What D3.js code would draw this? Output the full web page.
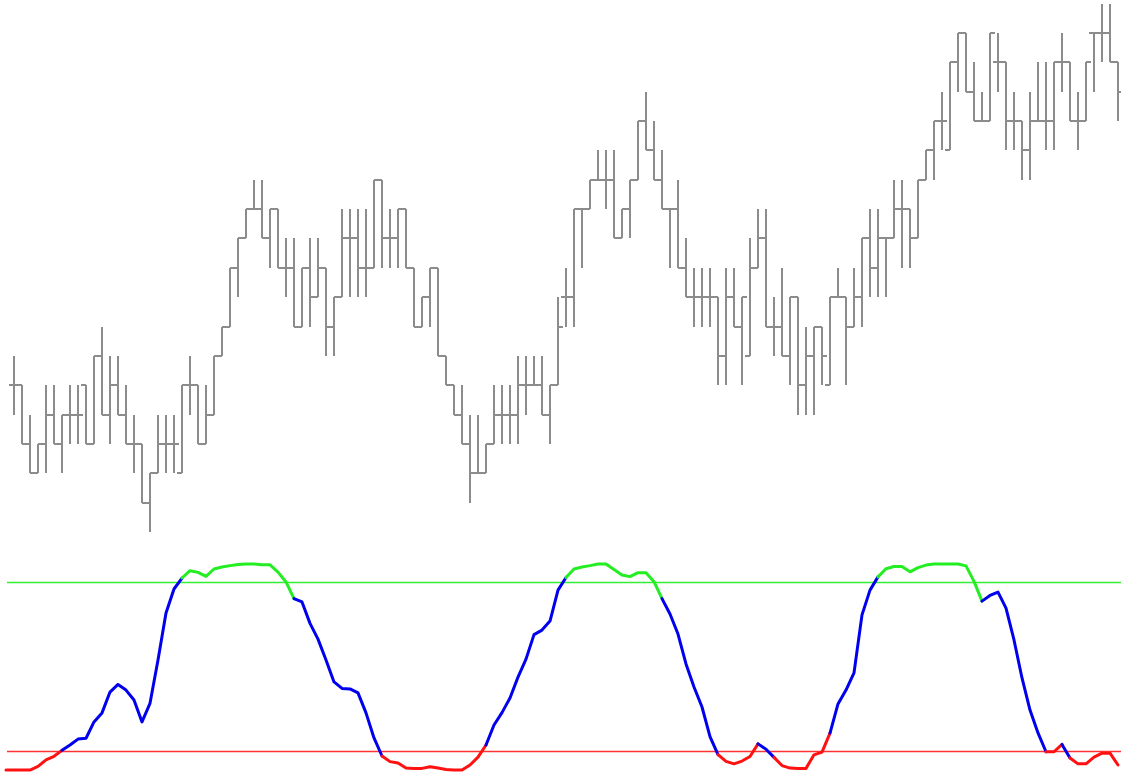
<!DOCTYPE html>
<html><head><meta charset="utf-8">
<script src="https://cdn.jsdelivr.net/npm/d3@7"></script>
<style>html,body{margin:0;padding:0;background:#fff;overflow:hidden}svg{display:block}</style>
</head><body>
<svg id="c" width="1121" height="775"></svg>
<script>
// Price bars (price in brick units): open, high, low, close
const opens  = [5,5,3,2,3,4,3,4,4,5,3,6,4,5,4,3,3,1,2,3,3,2,5,5,3,4,6,7,9,10,11,11,10,11,9,9,7,9,8,9,7,8,10,10,9,9,12,10,10,11,9,7,8,9,6,5,4,3,2,2,3,4,4,4,5,5,5,4,5,8,8,11,11,12,12,12,10,11,12,14,13,12,11,11,9,8,8,8,8,6,8,7,6,9,10,7,7,6,8,5,6,7,5,8,8,7,8,10,9,10,10,11,11,10,12,13,14,13,16,17,15,14,14,16,16,14,14,13,14,14,14,16,16,14,14,17,17,17,16];
const highs  = [6,5,4,3,5,5,4,5,5,5,6,7,6,6,5,4,3,2,4,4,4,5,6,5,5,6,7,9,10,11,12,12,11,11,10,10,9,10,10,9,8,11,11,11,11,12,12,11,11,11,9,8,9,9,6,5,5,4,4,3,5,5,5,6,6,6,6,5,8,9,11,11,12,13,13,13,11,12,14,15,14,13,11,12,10,9,9,9,8,9,9,8,10,11,11,8,9,8,8,7,7,7,8,9,8,9,10,11,11,10,12,12,11,12,13,14,15,16,17,17,16,15,17,17,16,15,14,15,16,16,16,17,16,15,16,17,18,18,16];
const lows   = [4,3,2,2,2,3,2,3,3,3,3,4,3,4,3,2,1,0,2,2,2,2,4,3,3,4,6,7,8,10,11,10,9,9,8,7,7,7,8,6,6,8,8,8,8,9,9,9,9,9,7,7,7,6,5,4,3,1,2,2,3,3,3,3,4,5,4,3,5,7,7,9,11,12,11,10,10,10,12,13,12,11,9,9,8,7,7,7,5,5,7,5,6,9,7,6,6,5,4,4,4,5,5,8,5,7,7,8,8,8,10,9,9,10,12,12,13,13,15,15,14,14,14,15,13,13,12,12,14,13,13,15,14,13,14,15,16,16,14];
const closes = [5,3,2,3,4,3,4,4,4,3,6,4,5,4,3,3,1,2,3,3,3,5,5,3,4,6,7,9,10,11,11,10,11,9,9,7,9,8,9,7,8,10,10,9,9,12,10,10,11,9,7,8,9,6,5,4,3,2,2,3,4,4,4,5,5,5,4,5,7,8,11,11,12,12,12,10,11,12,14,13,12,11,11,9,8,8,8,8,6,8,7,8,9,10,7,7,6,8,5,6,7,6,8,8,7,8,10,9,10,10,11,11,10,12,13,14,14,16,17,15,14,14,17,16,14,14,13,14,14,14,16,16,14,14,16,17,17,16,15];

// Oscillator (0..100), one value per bar starting one bar before the first price bar
const oscStart = -1;
const osc = [13.4,13.4,13.4,13.4,14.7,17.0,18.3,20.4,22.3,24.4,24.7,30.5,33.7,41.1,43.8,41.8,38.3,30.5,37.1,52.5,69.2,77.7,81.6,84.2,83.6,82.2,84.8,85.5,86.0,86.4,86.6,86.6,86.3,86.3,83.7,80.2,74.3,73.1,65.5,59.9,52.5,44.7,42.4,42.2,40.8,33.7,24.8,18.4,16.4,15.9,14.1,14.0,14.0,14.6,14.1,13.6,13.4,13.4,15.2,18.0,22.3,29.4,33.8,39.0,46.4,52.8,61.5,63.1,66.3,77.3,81.8,84.8,85.5,86.0,86.6,86.6,84.6,82.7,82.1,83.5,83.5,80.3,74.3,68.8,61.7,51.1,42.9,35.8,25.3,18.9,16.5,15.6,16.6,18.2,22.7,20.8,17.9,15.0,14.1,14.0,14.0,18.8,19.8,26.5,36.9,41.8,47.9,68.5,77.3,82.0,84.9,85.7,85.7,83.8,85.3,86.2,86.6,86.6,86.6,86.6,85.9,80.4,73.4,75.4,76.6,70.9,59.6,46.1,34.7,26.6,19.9,19.9,22.5,17.7,15.6,15.6,18.0,19.4,19.4,15.2];
const upperLevel = 80, lowerLevel = 20;

const svg = d3.select('#c');
const W = 1121;
const x = d3.scaleLinear().domain([0, 138]).range([14, 1118]);
const yP = d3.scaleLinear().domain([0, 17]).range([532, 33]);
const yO = d3.scaleLinear().domain([0, 100]).range([807.8, 526.2]);

const bars = opens.map((o,i)=>({i,o,h:highs[i],l:lows[i],c:closes[i]}));
const gray = '#8c8c8c';
const gB = svg.append('g').attr('shape-rendering','crispEdges').attr('stroke',gray).attr('stroke-width',2);
const rnd = v => Math.round(v);
gB.selectAll('line.v').data(bars).join('line').attr('class','v')
  .attr('x1',d=>x(d.i)).attr('x2',d=>x(d.i))
  .attr('y1',d=>rnd(yP(d.h))).attr('y2',d=>rnd(yP(d.l)));
gB.selectAll('line.o').data(bars).join('line').attr('class','o')
  .attr('x1',d=>x(d.i)-5).attr('x2',d=>x(d.i))
  .attr('y1',d=>rnd(yP(d.o))).attr('y2',d=>rnd(yP(d.o)));
gB.selectAll('line.c').data(bars).join('line').attr('class','c')
  .attr('x1',d=>x(d.i)).attr('x2',d=>x(d.i)+5)
  .attr('y1',d=>rnd(yP(d.c))).attr('y2',d=>rnd(yP(d.c)));

// level lines
const x0 = x(oscStart)+1;
svg.append('line').attr('x1',x0).attr('x2',W).attr('y1',yO(upperLevel)).attr('y2',yO(upperLevel))
  .attr('stroke','#33ee33').attr('stroke-width',1.6);
svg.append('line').attr('x1',x0).attr('x2',W).attr('y1',yO(lowerLevel)).attr('y2',yO(lowerLevel))
  .attr('stroke','#ff3333').attr('stroke-width',1.6);

// oscillator: each segment takes the zone colour of its starting value
const pts = osc.map((v,k)=>({t:k+oscStart, v}));
const zone = v => v>upperLevel ? 'up' : (v<lowerLevel ? 'dn' : 'mid');
const colors = {up:'#22ee22', dn:'#ff1111', mid:'#0000ee'};
const runs=[];
for (let k=0;k<pts.length-1;k++){
  const z = zone(pts[k].v);
  const last = runs[runs.length-1];
  if (last && last.z===z) last.p.push(pts[k+1]);
  else runs.push({z, p:[pts[k], pts[k+1]]});
}
const line = d3.line().x(d=>x(d.t)).y(d=>yO(d.v));
svg.append('g').selectAll('path').data(runs).join('path')
  .attr('d',d=>line(d.p)).attr('fill','none').attr('stroke',d=>colors[d.z])
  .attr('stroke-width',3).attr('stroke-linejoin','round').attr('stroke-linecap','round');
</script>
</body></html>
